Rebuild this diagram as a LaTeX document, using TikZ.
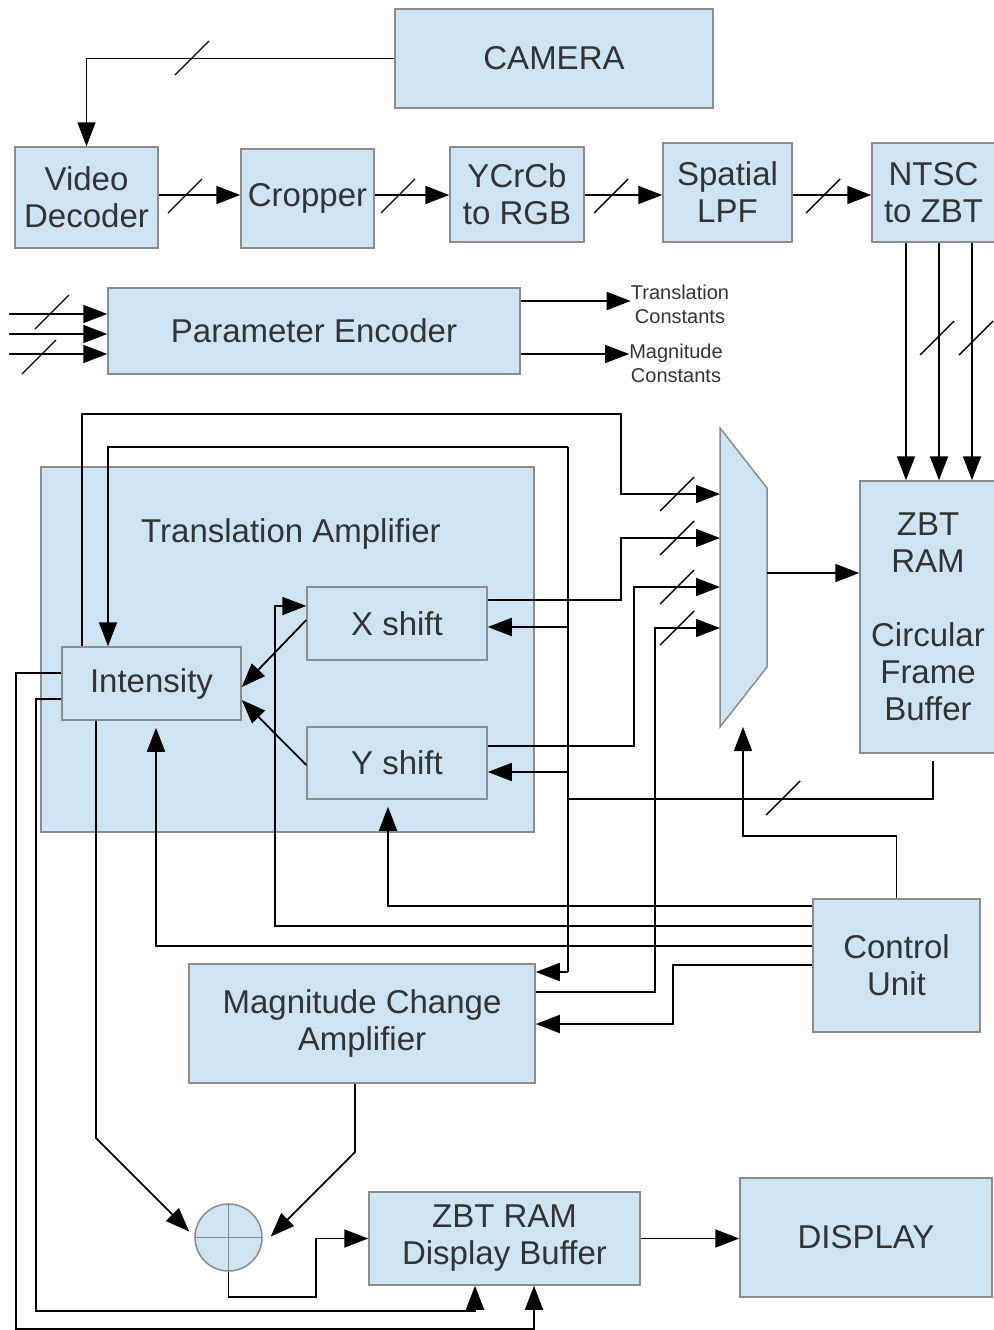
\documentclass[tikz,border=0pt]{standalone}
\usepackage{fontspec}
\setmainfont{Liberation Sans}
\usetikzlibrary{arrows.meta}
\definecolor{boxfill}{RGB}{207,228,242}
\definecolor{boxline}{RGB}{140,140,140}
\definecolor{txt}{RGB}{51,51,51}
\newcommand\wslash[1]{\draw[slash] (#1) ++(-17,17) -- ++(34,-34);}
\begin{document}
\begin{tikzpicture}[x=1pt,y=-1pt,
  box/.style={draw=boxline, fill=boxfill, line width=1.5pt, inner sep=0pt, align=center, text=txt, font=\fontsize{33}{37}\selectfont},
  big/.style={inner sep=0pt, align=center, text=txt, font=\fontsize{33}{37}\selectfont},
  small/.style={inner sep=0pt, align=center, text=txt, font=\fontsize{20}{24}\selectfont},
  arr/.style={line width=1.8pt, -{Triangle[length=24pt,width=18pt]}},
  wire/.style={line width=1.8pt},
  slash/.style={line width=1.4pt}]
\useasboundingbox (0,0) rectangle (993,1330);

% boxes
\node[box, minimum width=318pt, minimum height=99pt] (cam) at (554,58.5) {CAMERA};
\node[box, minimum width=143pt, minimum height=101pt] (vdec) at (86.5,197.5) {Video\\Decoder};
\node[box, minimum width=133pt, minimum height=99pt] (crop) at (307.5,198.5) {Cropper};
\node[box, minimum width=134pt, minimum height=95pt] (ycc) at (517,194.5) {YCrCb\\to RGB};
\node[box, minimum width=129pt, minimum height=99pt] (lpf) at (727.5,192.5) {Spatial\\LPF};
\node[box, minimum width=123pt, minimum height=99pt] (ntsc) at (933.5,192.5) {NTSC\\to ZBT};
\node[box, minimum width=412pt, minimum height=86pt] (penc) at (314,331) {Parameter Encoder};
\node[small] (tc) at (680,304) {Translation\\Constants};
\node[small] (mc) at (676,363) {Magnitude\\Constants};
\node[box, minimum width=493pt, minimum height=365pt] (tamp) at (287.5,649.5) {};
\node[big] (tampl) at (291,534) {Translation Amplifier};
\node[box, minimum width=179pt, minimum height=73pt] (int) at (151.5,683.5) {Intensity};
\node[box, minimum width=180pt, minimum height=73pt] (xs) at (397,623.5) {X shift};
\node[box, minimum width=180pt, minimum height=72pt] (ys) at (397,763) {Y shift};
\node[box, minimum width=136pt, minimum height=272pt] (zbt) at (928,617) {ZBT\\RAM\\[37pt]Circular\\Frame\\Buffer};
\node[box, minimum width=167pt, minimum height=133pt] (ctrl) at (896.5,965.5) {Control\\Unit};
\node[box, minimum width=346pt, minimum height=119pt] (mca) at (362,1023.5) {Magnitude Change\\Amplifier};
\node[box, minimum width=271pt, minimum height=93pt] (dbuf) at (504.5,1238.5) {ZBT RAM\\Display Buffer};
\node[box, minimum width=252pt, minimum height=119pt] (disp) at (866,1237.5) {DISPLAY};
\node[circle, draw=boxline, fill=boxfill, line width=1.5pt, minimum size=67pt, inner sep=0pt] (sum) at (228.5,1237.5) {};
\draw[boxline, line width=1.2pt] (sum.north) -- (sum.south) (sum.west) -- (sum.east);

% multiplexer
\draw[draw=boxline, fill=boxfill, line width=1.5pt] (720,428) -- (767,488) -- (767,667) -- (720,727) -- cycle;
\coordinate (m1) at (720,494);
\coordinate (m2) at (720,538);
\coordinate (m3) at (720,587);
\coordinate (m4) at (720,628);
\coordinate (mout) at (767,573);
\coordinate (mbot) at (743,727);

% top chain
\draw[arr] (cam.west) -| (vdec.north);
\wslash{192,58}
\coordinate (row) at (0,195);
\draw[arr] (vdec.east |- row) -- (crop.west |- row);
\draw[arr] (crop.east |- row) -- (ycc.west |- row);
\draw[arr] (ycc.east |- row) -- (lpf.west |- row);
\draw[arr] (lpf.east |- row) -- (ntsc.west |- row);
\wslash{185,196}
\wslash{398,196}
\wslash{611,196}
\wslash{823,196}

% NTSC to ZBT
\draw[arr] (ntsc.south -| 906,0) -- (zbt.north -| 906,0);
\draw[arr] (ntsc.south -| 939,0) -- (zbt.north -| 939,0);
\draw[arr] (ntsc.south -| 972,0) -- (zbt.north -| 972,0);
\wslash{937,338}
\wslash{976,338}

% parameter encoder
\coordinate (i1) at (9,314);
\coordinate (i2) at (9,334);
\coordinate (i3) at (9,354);
\draw[arr] (i1) -- (penc.west |- i1);
\draw[arr] (i2) -- (penc.west |- i2);
\draw[arr] (i3) -- (penc.west |- i3);
\wslash{52,312}
\wslash{39,357}
\draw[arr] (penc.east |- 0,301) -- (tc.west |- 0,301);
\draw[arr] (penc.east |- 0,354) -- (mc.west |- 0,354);

% intensity inputs from shifts
\draw[arr] (xs.west |- 0,620) -- (int.east |- 0,687);
\draw[arr] (ys.west |- 0,765) -- (int.east |- 0,700);

% intensity to mux
\draw[arr] (int.north -| 82,0) |- (621,414) |- (m1);
\wslash{677,494}

% frame buffer bus
\coordinate (bt) at (568,447);
\coordinate (bx) at (568,627);
\coordinate (by) at (568,772);
\coordinate (bz) at (568,799);
\coordinate (bm) at (568,972);
\draw[wire] (bt) -- (bm);
\draw[arr] (bt) -| (int.north -| 108,0);
\draw[arr] (bx) -- (xs.east |- bx);
\draw[arr] (by) -- (ys.east |- by);
\draw[arr] (bm) -- (mca.east |- bm);
\draw[wire] (zbt.south -| 933,0) ++(0,7) |- (bz);
\wslash{783,798}

% shifts and magnitude to mux
\draw[arr] (xs.east |- 0,600) -| (621,538) -- (m2);
\draw[arr] (ys.east |- 0,746) -| (634,587) -- (m3);
\draw[arr] (mca.east |- 0,992) -| (655,628) -- (m4);
\wslash{677,538}
\wslash{677,587}
\wslash{677,628}
\draw[arr] (mout) -- (zbt.west |- mout);

% control unit
\draw[arr] (ctrl.north) |- (743,836) -- (mbot);
\draw[arr, shorten >=7pt] (ctrl.west |- 0,906) -| (ys.south -| 388,0);
\draw[arr] (ctrl.west |- 0,926) -| (275,606) -- (xs.west |- 0,606);
\draw[arr, shorten >=7pt] (ctrl.west |- 0,946) -| (int.south -| 156,0);
\draw[arr] (ctrl.west |- 0,965) -| (673,1024) -- (mca.east |- 0,1024);

% intensity outputs
\draw[arr] (int.west |- 0,673) -| (16,1329) -| (dbuf.south -| 534,0);
\draw[arr] (int.west |- 0,699) -| (36,1311) -| (dbuf.south -| 475,0);
\draw[arr] (int.south -| 96,0) -- (96,1138) -- ([xshift=-5pt,yshift=6pt]sum.west);
\draw[arr] (mca.south -| 355,0) -- (355,1152) -- ([xshift=8pt,yshift=1pt]sum.east);

% sum to display buffer and display
\draw[arr] (sum.south) |- (316,1297) |- (dbuf.west);
\draw[arr] (dbuf.east) -- (disp.west |- dbuf.east);
\end{tikzpicture}
\end{document}
